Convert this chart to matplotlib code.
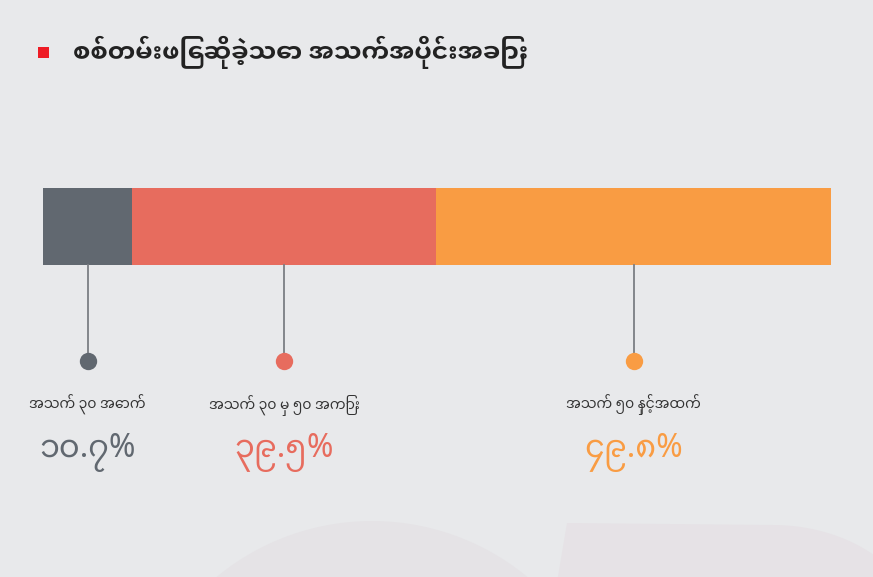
import matplotlib
matplotlib.use("Agg")
import matplotlib.pyplot as plt
from matplotlib.patches import Circle, Polygon, Rectangle
from matplotlib.transforms import blended_transform_factory
import numpy as np

title = "စစ်တမ်းဖြေဆိုခဲ့သော အသက်အပိုင်းအခြား"
categories = ["အသက် ၃၀ အောက်", "အသက် ၃၀ မှ ၅၀ အကြား", "အသက် ၅၀ နှင့်အထက်"]
# segment widths as drawn in the chart (percent of the bar)
bar_values = [11.3, 38.6, 50.1]
value_labels = ["၁၀.၇%", "၃၉.၅%", "၄၉.၈%"]
colors = ["#616870", "#e76c5e", "#f99c43"]

W, H = 873, 577
BG = "#e8e9eb"
FONT = ["Noto Sans Myanmar", "Noto Sans Myanmar UI", "DejaVu Sans"]
FONT_UI = ["Noto Sans Myanmar UI", "DejaVu Sans"]

fig = plt.figure(figsize=(W / 100, H / 100), dpi=100, facecolor=BG)

# faint background decorations
bgax = fig.add_axes([0, 0, 1, 1])
bgax.set_xlim(0, W)
bgax.set_ylim(H, 0)
bgax.axis("off")
bgax.add_patch(Circle((372, 765), 244, facecolor="#e5e3e6", edgecolor="none"))
theta = np.linspace(np.pi / 2, 0, 30)
arc = [(773 + 150 * np.cos(t), 640 - 115 * np.sin(t)) for t in theta]
bgax.add_patch(Polygon([(554, 600), (567, 523)] + arc + [(923, 640), (554, 640)],
                       closed=True, facecolor="#e6e2e6", edgecolor="none"))

# title
fig.patches.append(Rectangle((38 / W, 1 - 58 / H), 11 / W, 11 / H,
                             transform=fig.transFigure, facecolor="#ee1c25",
                             edgecolor="none"))
fig.text(73 / W, 1 - 52 / H, title, ha="left", va="center", fontsize=17.9,
         fontweight="bold", color="#222222", family=FONT_UI)

# bar axes
x0, x1, yt, yb = 43, 831, 188, 265
ax = fig.add_axes([x0 / W, 1 - yb / H, (x1 - x0) / W, (yb - yt) / H])
ax.set_xlim(0, sum(bar_values))
ax.set_ylim(0, 1)
ax.axis("off")
lefts = np.concatenate([[0], np.cumsum(bar_values)[:-1]])
ax.barh(0.5, bar_values, left=lefts, height=1, color=colors, edgecolor="none")

trans = blended_transform_factory(ax.transData, fig.transFigure)
centers = lefts + np.array(bar_values) / 2
ydot = 1 - 361 / H
ylab = 1 - 405 / H
yval = 1 - 453 / H
ytop = 1 - yb / H
for c, col, cat, vl in zip(centers, colors, categories, value_labels):
    ax.plot([c, c], [ytop, ydot], transform=trans, color="#7b7e83", lw=1.3,
            clip_on=False, zorder=1)
    ax.plot([c], [ydot], transform=trans, marker="o", markersize=12.5,
            color=col, markeredgewidth=0, clip_on=False, zorder=2)
    ax.text(c, ylab, cat, transform=trans, ha="center", va="center",
            fontsize=10, color="#333333", family=FONT)
    ax.text(c, yval, vl, transform=trans, ha="center", va="center",
            fontsize=23, color=col, family=FONT)

fig.savefig("out.png", dpi=100, facecolor=BG)
